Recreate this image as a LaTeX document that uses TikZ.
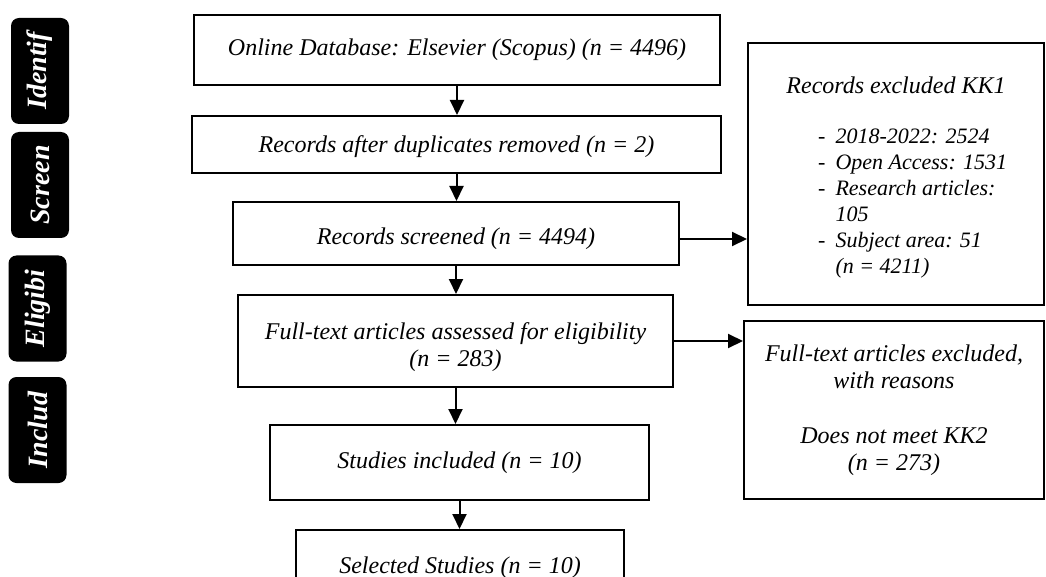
\documentclass[tikz,border=0pt]{standalone}
\usepackage{fontspec}
\setmainfont{Liberation Serif}
\usetikzlibrary{arrows.meta}

% lowers a (possibly multi-line) box text without changing its size
\newcommand{\lowertext}[2]{\raisebox{-#1}[\height][\depth]{\begin{tabular}{@{}c@{}}#2\end{tabular}}}

\tikzset{
  flowbox/.style={draw, line width=2pt, align=center, inner sep=2pt,
    font=\fontsize{24}{27}\selectfont\itshape},
  phasetab/.style={fill=black, rounded corners=8pt, text=white, rotate=90,
    inner sep=0pt, minimum width=106pt, minimum height=58pt,
    font=\fontsize{28}{30}\selectfont\bfseries\itshape},
  flowarrow/.style={-{Triangle[length=15pt, width=14pt]}, line width=2pt},
}

\begin{document}
\begin{tikzpicture}[x=1pt, y=-1pt]
    \clip (0,0) rectangle (1046,577);
    \fill[white] (0,0) rectangle (1046,577);

    % Phase tabs
    \node[phasetab] (identif) at (40,71) {Identif};
    \node[phasetab] (screen) at (40,185) {Screen};
    \node[phasetab] (eligibi) at (37.5,308.5) {Eligibi};
    \node[phasetab] (includ) at (37.5,430) {Includ};

    % Main flow
    \node[flowbox, minimum width=526pt, minimum height=70pt] (db) at (457,50)
        {Online Database: Elsevier (Scopus) (n = 4496)};
    \node[flowbox, minimum width=529pt, minimum height=57pt] (dup) at (456.5,144.5)
        {\lowertext{3pt}{Records after duplicates removed (n = 2)}};
    \node[flowbox, minimum width=446pt, minimum height=63pt] (scr) at (456,233.5)
        {\lowertext{6pt}{Records screened (n = 4494)}};
    \node[flowbox, minimum width=435pt, minimum height=92pt] (full) at (455.5,341)
        {\lowertext{7pt}{Full-text articles assessed for eligibility\\(n = 283)}};
    \node[flowbox, minimum width=379pt, minimum height=75pt] (incl) at (459.5,462.5)
        {Studies included (n = 10)};
    \node[flowbox, minimum width=328pt, minimum height=75pt] (sel) at (460,567.5)
        {Selected Studies (n = 10)};

    % Exclusion boxes
    \node[flowbox, minimum width=296pt, minimum height=262pt] (kk1) at (896,174)
        {\lowertext{3.5pt}{Records excluded KK1\\[23pt]
         \hspace*{33.4pt}{\fontsize{22}{26}\selectfont
         \begin{tabular}[t]{@{}l@{\hspace{10pt}}l@{}}
           - & 2018-2022: 2524\\
           - & Open Access: 1531\\
           - & Research articles:\\
             & 105\\
           - & Subject area: 51\\
             & (n = 4211)
         \end{tabular}}}};
    \node[flowbox, minimum width=300pt, minimum height=178pt] (kk2) at (894,410)
        {Full-text articles excluded,\\with reasons\\[28pt]Does not meet KK2\\(n = 273)};

    % Arrows
    \draw[flowarrow] (db.south) -- (db.south |- dup.north);
    \draw[flowarrow] (dup.south) -- (dup.south |- scr.north);
    \draw[flowarrow] (scr.south) -- (scr.south |- full.north);
    \draw[flowarrow] (full.south) -- (full.south |- incl.north);
    \draw[flowarrow] (incl.south) -- (incl.south |- sel.north);
    \draw[flowarrow] ([yshift=-5.5pt]scr.east) -- ([yshift=-5.5pt]scr.east -| kk1.west);
    \draw[flowarrow] (full.east) -- (full.east -| kk2.west);
\end{tikzpicture}
\end{document}
